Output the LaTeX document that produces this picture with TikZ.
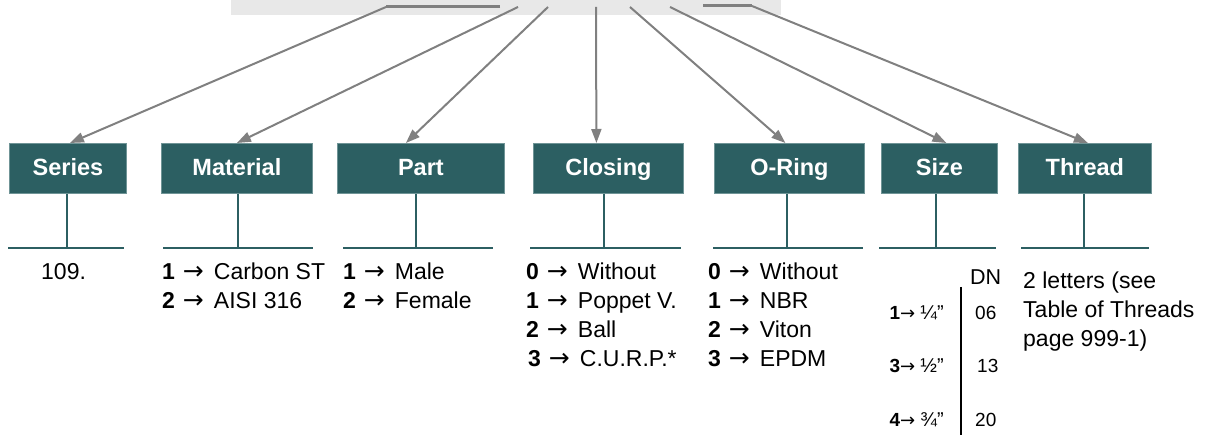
\documentclass[tikz,border=0pt]{standalone}
\usepackage{fontspec}
\setmainfont{Liberation Sans}
\newfontfamily\arrfont{DejaVu Sans}
\usetikzlibrary{arrows.meta}
\definecolor{tealbox}{HTML}{2C5F62}
\definecolor{tealedge}{HTML}{6F9496}
\definecolor{arrgray}{HTML}{808080}
\definecolor{bargray}{HTML}{E8E8E8}
\newcommand{\ar}{\hspace{8pt}{\fontsize{25}{29}\selectfont\arrfont →}\hspace{10pt}}
\newcommand{\sar}{{\fontsize{18}{20}\selectfont\arrfont →}}
\begin{document}
\begin{tikzpicture}[x=1pt,y=-1pt,
  box/.style={draw=tealedge, line width=0.8pt, fill=tealbox, text=white,
    font=\fontsize{23.5}{26}\selectfont\bfseries, inner sep=0pt, anchor=north west,
    minimum height=50pt, text depth=2pt},
  conn/.style={draw=arrgray, line width=2pt, -{Triangle[length=14pt,width=10pt]}},
  elbow/.style={draw=arrgray, line width=3pt},
  stem/.style={draw=tealbox, line width=2.2pt},
  body/.style={font=\fontsize{23}{29}\selectfont, align=left, inner sep=0pt, anchor=base west},
  small/.style={font=\fontsize{19}{24}\selectfont, inner sep=0pt},
]
\useasboundingbox (0,0) rectangle (1213,435);
% top bar
\node[fill=bargray, minimum width=550pt, minimum height=15pt, anchor=north west, inner sep=0pt] (bar) at (231,0) {};
% boxes
\node[box, minimum width=117pt] (series)   at (9,143)    {Series};
\node[box, minimum width=151pt] (material) at (161,143)  {Material};
\node[box, minimum width=167pt] (part)     at (337,143)  {Part};
\node[box, minimum width=150pt] (closing)  at (533,143)  {Closing};
\node[box, minimum width=150pt] (oring)    at (714,143)  {O-Ring};
\node[box, minimum width=116pt] (size)     at (881,143)  {Size};
\node[box, minimum width=133pt] (thread)   at (1018,143) {Thread};
% connector start points on the bar
\coordinate (a0) at (500,7);  \coordinate (a1) at (386,7);
\coordinate (b0) at (518,7);
\coordinate (c0) at (548,7);
\coordinate (d0) at (596,7);
\coordinate (e0) at (630,7);
\coordinate (f0) at (670,7);
\coordinate (g0) at (703,6);  \coordinate (g1) at (752,6);
\draw[elbow] (a0) -- (a1);
\draw[elbow] (g0) -- (g1);
\draw[conn] (a1) -- ([xshift=2pt]series.north);
\draw[conn] (b0) -- (material.north);
\draw[conn] (c0) -- ([xshift=-15pt]part.north);
\draw[conn] (d0) -- ([xshift=-12pt]closing.north);
\draw[conn] (e0) -- ([xshift=-4pt]oring.north);
\draw[conn] (f0) -- ([xshift=7pt]size.north);
\draw[conn] (g1) -- ([xshift=3pt]thread.north);
% stems and base lines
\coordinate (sa) at (67,248);   \draw[stem] (series.south -| sa) -- (sa);   \draw[stem] (8,248) -- (124,248);
\coordinate (sb) at (238,248);  \draw[stem] (material.south -| sb) -- (sb); \draw[stem] (163,248) -- (313,248);
\coordinate (sc) at (416,248);  \draw[stem] (part.south -| sc) -- (sc);     \draw[stem] (343,248) -- (493,248);
\coordinate (sd) at (604,248);  \draw[stem] (closing.south -| sd) -- (sd);  \draw[stem] (530,248) -- (681,248);
\coordinate (se) at (787,248);  \draw[stem] (oring.south -| se) -- (se);    \draw[stem] (713,248) -- (863,248);
\coordinate (sf) at (936,248);  \draw[stem] (size.south -| sf) -- (sf);     \draw[stem] (879,248) -- (996,248);
\coordinate (sg) at (1084,248); \draw[stem] (thread.south -| sg) -- (sg);   \draw[stem] (1021,248) -- (1149,248);
% option texts (base anchor = baseline of last line)
\node[body] (tseries) at (41,280) {109.};
\node[body] (tmat) at (162,309) {\textbf{1}\ar Carbon ST\\\textbf{2}\ar AISI 316};
\node[body] (tpart) at (343,309) {\textbf{1}\ar Male\\\textbf{2}\ar Female};
\node[body] (tclos) at (526,367) {\textbf{0}\ar Without\\\textbf{1}\ar Poppet V.\\\textbf{2}\ar Ball\\\hspace{2pt}\textbf{3}\ar C.U.R.P.*};
\node[body] (tor) at (708,367) {\textbf{0}\ar Without\\\textbf{1}\ar NBR\\\textbf{2}\ar Viton\\\textbf{3}\ar EPDM};
% size table
\node[small, anchor=base west, font=\fontsize{21.5}{24}\selectfont] (dn) at (970,285) {DN};
\node[small, anchor=base east] (s1) at (944,320) {\textbf{1}\sar\ {\fontsize{20}{20}\selectfont ¼”}};
\node[small, anchor=base east] (s3) at (944,373) {\textbf{3}\sar\ {\fontsize{20}{20}\selectfont ½”}};
\node[small, anchor=base east] (s4) at (944,427) {\textbf{4}\sar\ {\fontsize{20}{20}\selectfont ¾”}};
\node[small, anchor=base west] (n1) at (975,320) {06};
\node[small, anchor=base west] (n3) at (977,373) {13};
\node[small, anchor=base west] (n4) at (975,427) {20};
\coordinate (vt) at (961,287); \coordinate (vb) at (961,435);
\draw[line width=2pt] (vt) -- (vb);
% thread text
\node[body] (tthr) at (1023,347) {2 letters (see\\Table of Threads\\page 999-1)};
\end{tikzpicture}
\end{document}
